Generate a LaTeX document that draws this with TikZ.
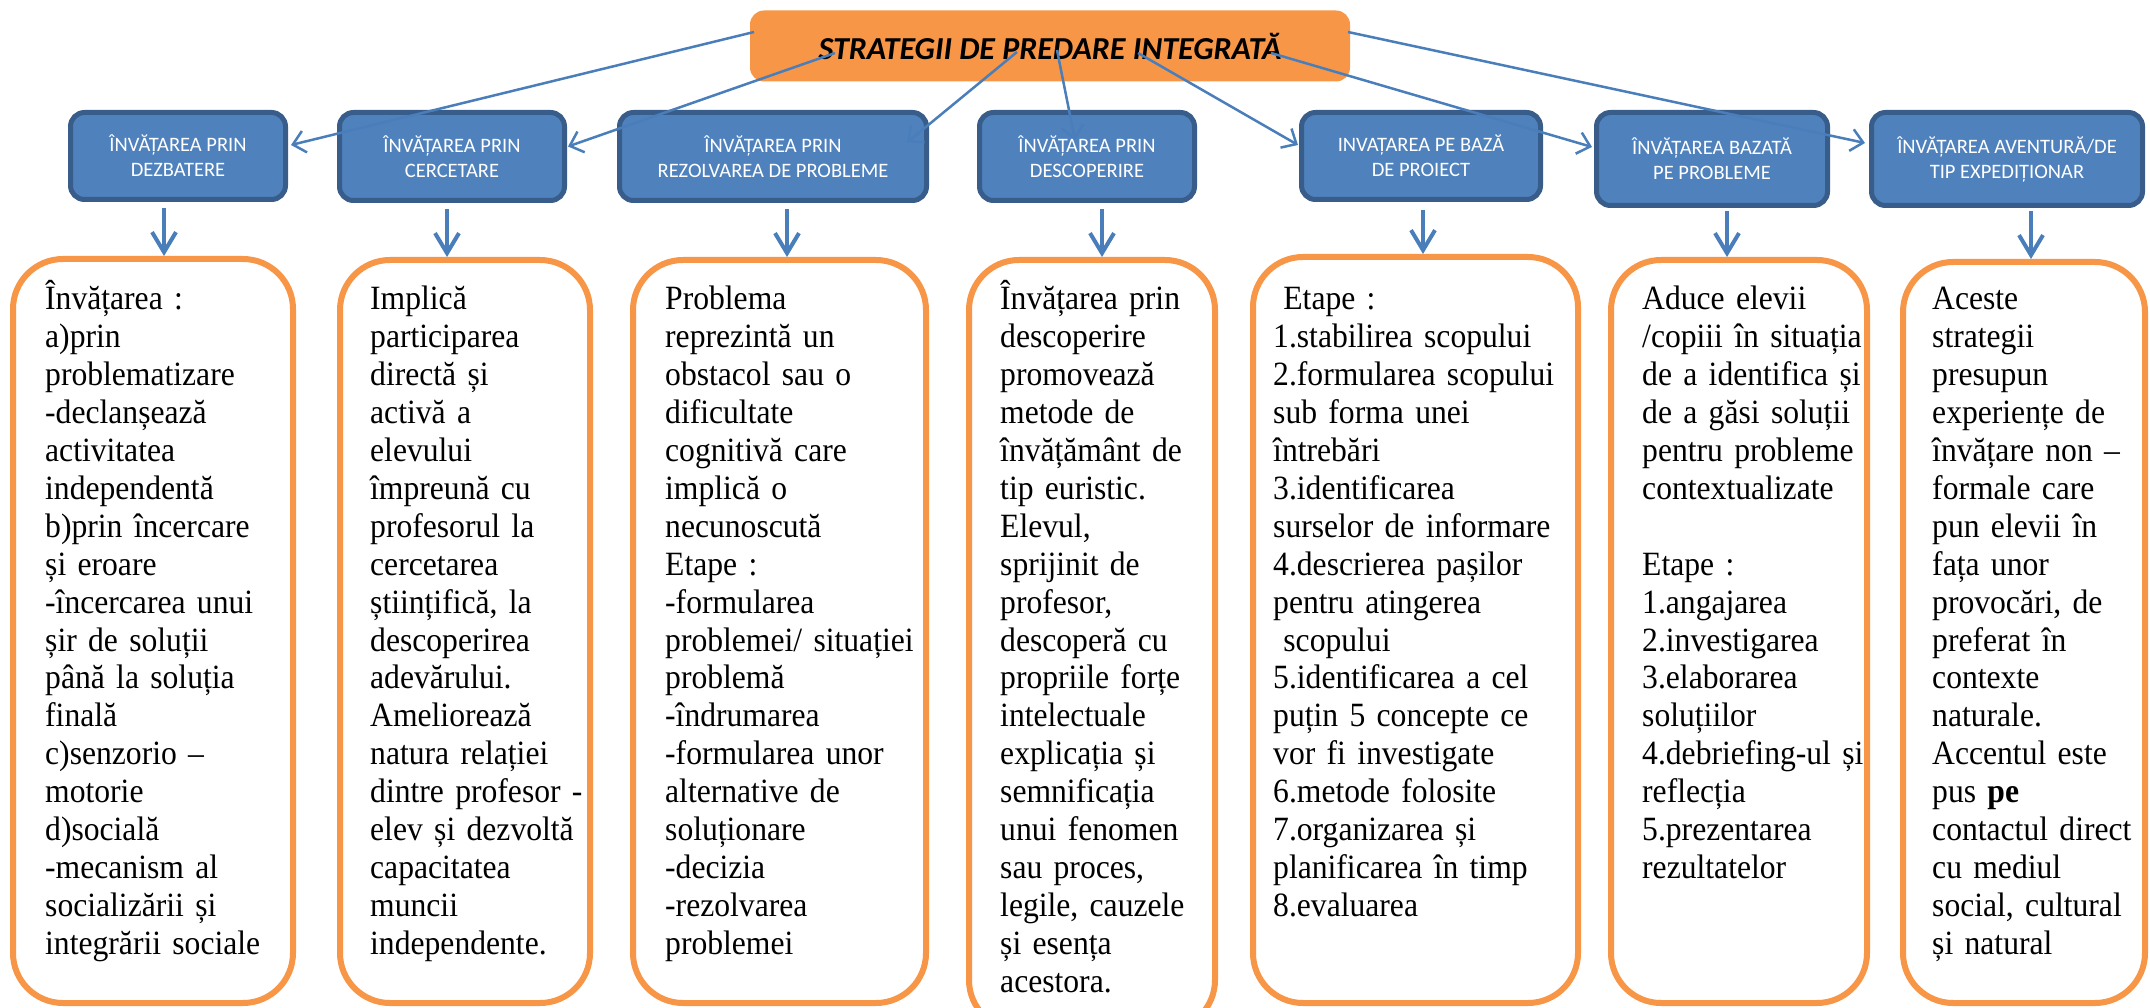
\documentclass[tikz,border=0pt]{standalone}
\usepackage{fontspec}
\setmainfont{Liberation Serif}[FakeStretch=0.93]
\newfontfamily\calibri{Carlito}
\usetikzlibrary{arrows.meta}
\definecolor{boxblue}{HTML}{4F81BD}
\definecolor{edgeblue}{HTML}{385D8A}
\definecolor{lineblue}{HTML}{4A7EBB}
\definecolor{boxorange}{HTML}{F79646}
\tikzset{%
  every strategy/.style={
    rectangle,
    rounded corners=14pt,
    draw=edgeblue,
    line width=5pt,
    fill=boxblue,
    text=white,
    align=center,
    inner sep=0pt,
    font=\calibri\fontsize{20.5}{25}\selectfont
  },
  every detail/.style={
    rectangle,
    rounded corners=50pt,
    draw=boxorange,
    line width=6pt,
    fill=white,
    inner sep=0pt
  },
  detail text/.style={
    anchor=base west,
    inner sep=0pt,
    text width=300pt,
    align=left,
    font=\fontsize{34}{37.9}\selectfont
  },
}

\begin{document}
\begin{tikzpicture}[x=1pt,y=-1pt]
        \tikzstyle{link}=[draw=lineblue,line width=2.5pt,-{Straight Barb[length=12pt,width=22pt]}]
        \tikzstyle{feed}=[draw=lineblue,line width=4pt,-{Straight Barb[length=20pt,width=24pt]}]
        \useasboundingbox (0,0) rectangle (2150,1008);

        \node[fill=boxorange,rounded corners=14pt,minimum width=600pt,minimum height=71pt,
              font=\calibri\bfseries\itshape\fontsize{32}{36}\selectfont] (title) at (1050,46) {STRATEGII DE PREDARE INTEGRATĂ};

        \node[every strategy,minimum width=215pt,minimum height=87pt] (b1) at (178,156) {ÎNVĂȚAREA  PRIN\\DEZBATERE};
        \node[every strategy,minimum width=225pt,minimum height=88pt] (b2) at (452,156.5) {ÎNVĂȚAREA PRIN\\CERCETARE};
        \node[every strategy,minimum width=307pt,minimum height=88pt] (b3) at (773,156.5) {ÎNVĂȚAREA PRIN\\REZOLVAREA DE PROBLEME};
        \node[every strategy,minimum width=215pt,minimum height=88pt] (b4) at (1087,156.5) {ÎNVĂȚAREA PRIN\\DESCOPERIRE};
        \node[every strategy,minimum width=239pt,minimum height=87pt] (b5) at (1421,156) {INVAȚAREA PE BAZĂ\\DE  PROIECT};
        \node[every strategy,minimum width=231pt,minimum height=93pt] (b6) at (1712,159) {ÎNVĂȚAREA BAZATĂ\\PE PROBLEME};
        \node[every strategy,minimum width=271pt,minimum height=93pt] (b7) at (2007,159) {ÎNVĂȚAREA AVENTURĂ/DE\\TIP EXPEDIȚIONAR};

        \node[every detail,minimum width=280pt,minimum height=744pt] (o1) at (153,631) {};
        \node[every detail,minimum width=250pt,minimum height=743pt] (o2) at (465,631.5) {};
        \node[every detail,minimum width=293pt,minimum height=743pt] (o3) at (779.5,631.5) {};
        \node[every detail,minimum width=246pt,minimum height=770pt] (o4) at (1092,645) {};
        \node[every detail,minimum width=325pt,minimum height=746pt] (o5) at (1415.5,630) {};
        \node[every detail,minimum width=256pt,minimum height=743pt] (o6) at (1739,631.5) {};
        \node[every detail,minimum width=242pt,minimum height=741pt] (o7) at (2024,632.5) {};

        \node[detail text] (t1) at (45,310) {Învățarea :\\a)prin\\problematizare\\-declanșează\\activitatea\\independentă\\b)prin încercare\\și eroare\\-încercarea unui\\șir de soluții\\până la soluția\\finală\\c)senzorio –\\motorie\\d)socială\\-mecanism al\\socializării și\\integrării sociale};
        \node[detail text] (t2) at (370,310) {Implică\\participarea\\directă și\\activă a\\elevului\\împreună cu\\profesorul la\\cercetarea\\științifică, la\\descoperirea\\adevărului.\\Ameliorează\\natura relației\\dintre profesor -\\elev și dezvoltă\\capacitatea\\muncii\\independente.};
        \node[detail text] (t3) at (665,310) {Problema\\reprezintă un\\obstacol sau o\\dificultate\\cognitivă care\\implică o\\necunoscută\\Etape :\\-formularea\\problemei/ situației\\problemă\\-îndrumarea\\-formularea unor\\alternative de\\soluționare\\-decizia\\-rezolvarea\\problemei};
        \node[detail text] (t4) at (1000,310) {Învățarea prin\\descoperire\\promovează\\metode de\\învățământ de\\tip euristic.\\Elevul,\\sprijinit de\\profesor,\\descoperă cu\\propriile forțe\\intelectuale\\explicația și\\semnificația\\unui fenomen\\sau proces,\\legile, cauzele\\și esența\\acestora.};
        \node[detail text] (t5) at (1273,310) {\hspace*{0.3em}Etape :\\1.stabilirea scopului\\2.formularea scopului\\sub forma unei\\întrebări\\3.identificarea\\surselor de informare\\4.descrierea pașilor\\pentru atingerea\\\hspace*{0.3em}scopului\\5.identificarea a cel\\puțin 5 concepte ce\\vor fi investigate\\6.metode folosite\\7.organizarea și\\planificarea în timp\\8.evaluarea};
        \node[detail text] (t6) at (1642,310) {Aduce elevii\\/copiii în situația\\de a identifica și\\de a găsi soluții\\pentru probleme\\contextualizate\\\mbox{}\\Etape :\\1.angajarea\\2.investigarea\\3.elaborarea\\soluțiilor\\4.debriefing-ul și\\reflecția\\5.prezentarea\\rezultatelor};
        \node[detail text] (t7) at (1932,310) {Aceste\\strategii\\presupun\\experiențe de\\învățare non –\\formale  care\\pun elevii în\\fața unor\\provocări, de\\preferat în\\contexte\\naturale.\\Accentul este\\pus \textbf{pe}\\contactul direct\\cu mediul\\social, cultural\\și natural};

        \foreach \sx/\sy/\to/\ex/\ey in {-296/-14/b1.east/3/-11, -215/7/b2.east/1/-10, -33/6/b3.east/-22/-14,
                  7/4/b4.north/-12/30, 88/7/b5.west/-1/-11, 221/7/b6.west/-2/-12, 298/-14/b7.west/-4/-16}
          \draw[link] ([shift={(\sx,\sy)}]title.center) -- ([shift={(\ex,\ey)}]\to);

        \foreach \i/\dx/\dy in {1/-14/6, 2/-5/6, 3/14/6, 4/15/6, 5/2/8, 6/15/3, 7/24/3} {
          \coordinate (a\i) at ([shift={(\dx,\dy)}]b\i.south);
          \draw[feed] (a\i) -- (a\i |- o\i.north);
        }
\end{tikzpicture}
\end{document}
